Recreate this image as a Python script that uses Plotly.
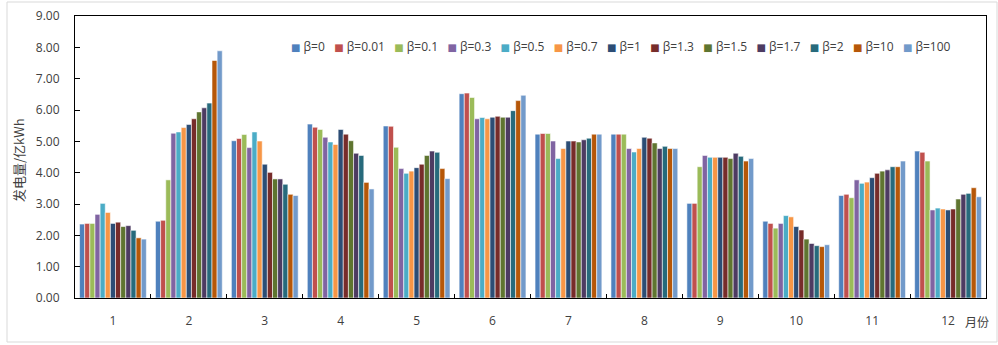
import plotly.graph_objects as go

months = [str(i) for i in range(1, 13)]
betas = ["0", "0.01", "0.1", "0.3", "0.5", "0.7", "1", "1.3", "1.5", "1.7", "2", "10", "100"]
colors = ["#4F81BD", "#C0504D", "#9BBB59", "#8064A2", "#4BACC6", "#F79646",
          "#2C4D75", "#772C2A", "#5F7530", "#4D3B62", "#276A7C", "#B65708", "#729ACA"]

# values per month (rows) for each beta (columns)
m1 = [2.36, 2.38, 2.38, 2.67, 3.02, 2.73, 2.38, 2.42, 2.28, 2.31, 2.16, 1.92, 1.88]
m2 = [2.45, 2.48, 3.77, 5.26, 5.30, 5.44, 5.54, 5.72, 5.94, 6.07, 6.22, 7.58, 7.89]
m3 = [5.02, 5.09, 5.22, 4.80, 5.30, 5.01, 4.27, 4.01, 3.80, 3.80, 3.63, 3.31, 3.27]
m4 = [5.55, 5.45, 5.38, 5.13, 4.98, 4.90, 5.38, 5.23, 5.02, 4.62, 4.55, 3.69, 3.48]
m5 = [5.49, 5.48, 4.81, 4.13, 3.98, 4.05, 4.16, 4.27, 4.55, 4.69, 4.65, 4.13, 3.81]
m6 = [6.52, 6.54, 6.40, 5.72, 5.76, 5.72, 5.77, 5.80, 5.77, 5.77, 5.98, 6.30, 6.47]
m7 = [5.23, 5.25, 5.25, 5.01, 4.45, 4.77, 5.01, 5.01, 4.98, 5.05, 5.10, 5.23, 5.23]
m8 = [5.23, 5.23, 5.23, 4.77, 4.66, 4.77, 5.13, 5.10, 4.95, 4.77, 4.84, 4.77, 4.77]
m9 = [3.02, 3.02, 4.19, 4.55, 4.49, 4.49, 4.49, 4.49, 4.45, 4.62, 4.52, 4.37, 4.45]
m10 = [2.45, 2.38, 2.23, 2.38, 2.63, 2.59, 2.28, 2.17, 1.88, 1.74, 1.67, 1.64, 1.70]
m11 = [3.27, 3.31, 3.20, 3.77, 3.66, 3.70, 3.84, 3.98, 4.05, 4.09, 4.19, 4.19, 4.37]
m12 = [4.69, 4.65, 4.37, 2.81, 2.87, 2.84, 2.81, 2.84, 3.16, 3.31, 3.34, 3.52, 3.23]
table = [m1, m2, m3, m4, m5, m6, m7, m8, m9, m10, m11, m12]

y_ticks = [0, 1, 2, 3, 4, 5, 6, 7, 8, 9]

FONT = "Open Sans, DejaVu Sans, sans-serif"
CJK = "Noto Sans CJK SC, sans-serif"
TXT = "#404040"

fig = go.Figure()
for j, b in enumerate(betas):
    fig.add_trace(go.Bar(
        x=months, y=[row[j] for row in table], name=f"β={b}",
        marker=dict(color=colors[j], line=dict(color="rgba(255,255,255,0.7)", width=0.8)),
        showlegend=False,
    ))

legend_text = "&nbsp;&nbsp;&nbsp;".join(
    f'<span style="color:{c};font-size:10px">■</span>&nbsp;β={b}' for b, c in zip(betas, colors)
)

W, H = 998, 345
L, R, T, B = 75, 12, 16, 47
pw, ph = W - L - R, H - T - B

def px(x):
    return (x - L) / pw

def py(y):
    return (H - B - y) / ph

fig.update_layout(
    width=W, height=H,
    margin=dict(l=L, r=R, t=T, b=B, autoexpand=False),
    paper_bgcolor="white", plot_bgcolor="white",
    barmode="group", bargap=0.12, bargroupgap=0,
    font=dict(family=FONT, size=11, color=TXT),
    xaxis=dict(
        type="category", showline=True, linecolor="black", linewidth=1, mirror=True,
        ticks="inside", tickson="boundaries", ticklen=4, tickcolor="black",
        showgrid=False, tickfont=dict(family=FONT, size=12, color=TXT),
        ticklabelstandoff=12,
    ),
    yaxis=dict(
        range=[0, 9], tickvals=y_ticks, tickformat=".2f",
        showline=True, linecolor="black", linewidth=1, mirror=True,
        ticks="inside", ticklen=5, tickcolor="black", showgrid=False, zeroline=False,
        tickfont=dict(family=FONT, size=12, color=TXT), ticklabelstandoff=12,
    ),
    annotations=[
        dict(text=legend_text, xref="paper", yref="paper", x=px(621), y=py(46),
             xanchor="center", yanchor="middle", showarrow=False,
             font=dict(family=FONT, size=12, color=TXT)),
        dict(text="发电量/亿kWh", xref="paper", yref="paper", x=px(18), y=py(160),
             textangle=-90, xanchor="center", yanchor="middle", showarrow=False,
             font=dict(family=CJK, size=13, color=TXT)),
        dict(text="月份", xref="paper", yref="paper", x=px(977), y=py(321),
             xanchor="center", yanchor="middle", showarrow=False,
             font=dict(family=CJK, size=12, color=TXT)),
    ],
    shapes=[
        dict(type="rect", xref="paper", yref="paper", x0=px(7), x1=px(997),
             y0=py(342), y1=py(2), line=dict(color="#d9d9d9", width=1), layer="below"),
    ],
)

fig.write_html("out.html", config={"displayModeBar": False},
               post_script="document.body.style.margin='0';document.body.style.overflow='hidden';")
